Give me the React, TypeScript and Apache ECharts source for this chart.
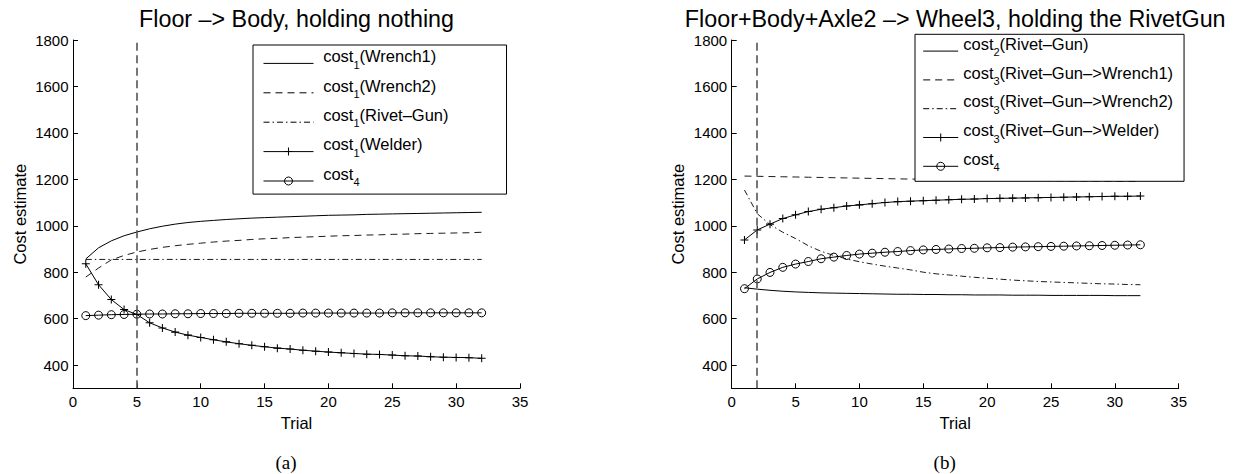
import React, { useEffect, useRef } from 'react';
import * as echarts from 'echarts';

// ---------- data ----------
const trials = [1, 2, 3, 4, 5, 6, 7, 8, 9, 10, 11, 12, 13, 14, 15, 16, 17, 18, 19, 20, 21, 22, 23, 24, 25, 26, 27, 28, 29, 30, 31, 32];
const yTicks = [400, 600, 800, 1000, 1200, 1400, 1600, 1800];

// (a) Floor -> Body, holding nothing
const leftWrench1 = [857, 905, 935, 957, 973, 987, 998, 1007, 1014, 1019, 1023, 1027, 1030, 1033, 1035, 1037, 1039, 1041, 1043, 1045, 1046, 1047, 1049, 1050, 1051, 1052, 1053, 1054, 1055, 1056, 1057, 1058];
const leftWrench2 = [779, 818, 853, 872, 887, 898, 907, 914, 920, 925, 930, 934, 937, 941, 944, 946, 949, 951, 953, 955, 957, 958, 960, 961, 963, 964, 966, 967, 968, 969, 970, 972];
const leftRivetGun = [855, 855, 855, 855, 855, 855, 855, 855, 855, 855, 855, 855, 855, 855, 855, 855, 855, 855, 855, 855, 855, 855, 855, 855, 855, 855, 855, 855, 855, 855, 855, 855];
const leftWelder = [836, 746, 682, 639, 618, 582, 560, 542, 529, 519, 509, 500, 492, 485, 479, 473, 469, 464, 460, 456, 453, 450, 447, 446, 443, 440, 439, 436, 434, 433, 432, 429];
const leftCost4 = [613, 615, 617, 618, 619, 620, 620, 621, 621, 622, 622, 622, 623, 623, 623, 623, 623, 624, 624, 624, 624, 624, 624, 624, 625, 625, 625, 625, 625, 625, 625, 625];
const leftMarkerTrial = 5;

// (b) Floor+Body+Axle2 -> Wheel3, holding the RivetGun
const rightRivetGun = [733, 727, 722, 718, 715, 713, 711, 710, 709, 708, 707, 706, 705, 705, 704, 704, 703, 703, 702, 702, 702, 701, 701, 701, 700, 700, 700, 700, 700, 699, 699, 699];
const rightToWrench1 = [1214, 1213, 1212, 1211, 1210, 1209, 1208, 1207, 1206, 1205, 1204, 1203, 1202, 1201, 1201, 1200, 1199, 1199, 1198, 1197, 1197, 1196, 1195, 1195, 1194, 1193, 1193, 1192, 1192, 1191, 1191, 1190];
const rightToWrench2 = [1154, 1052, 1005, 972, 945, 914, 890, 872, 857, 845, 835, 826, 818, 810, 800, 793, 788, 783, 778, 774, 770, 766, 763, 760, 758, 756, 754, 752, 750, 749, 747, 746];
const rightToWelder = [939, 982, 1007, 1031, 1047, 1061, 1071, 1078, 1085, 1090, 1095, 1100, 1104, 1106, 1108, 1110, 1112, 1114, 1115, 1117, 1118, 1119, 1120, 1121, 1122, 1123, 1124, 1125, 1126, 1127, 1127, 1128];
const rightCost4 = [729, 771, 799, 821, 835, 846, 858, 865, 872, 878, 882, 886, 889, 893, 896, 898, 900, 902, 903, 905, 906, 908, 909, 910, 911, 912, 913, 914, 915, 916, 917, 918];
const rightMarkerTrial = 2;

const titles = ['Floor –> Body, holding nothing', 'Floor+Body+Axle2 –> Wheel3, holding the RivetGun'];
const panelLabels = ['(a)', '(b)'];

// legend label parts: [main, subscript, rest]
const legendParts: Record<string, string[]> = {
  L1: ['cost', '1', '(Wrench1)'],
  L2: ['cost', '1', '(Wrench2)'],
  L3: ['cost', '1', '(Rivet–Gun)'],
  L4: ['cost', '1', '(Welder)'],
  L5: ['cost', '4', ''],
  R1: ['cost', '2', '(Rivet–Gun)'],
  R2: ['cost', '3', '(Rivet–Gun–>Wrench1)'],
  R3: ['cost', '3', '(Rivet–Gun–>Wrench2)'],
  R4: ['cost', '3', '(Rivet–Gun–>Welder)'],
  R5: ['cost', '4', ''],
};

// ---------- styles ----------
const FONT = 'Liberation Sans, Arial, Helvetica, sans-serif';
const SERIF = 'Liberation Serif, Times New Roman, serif';
const DASH = [7, 5];
const DASHDOT = [6, 3, 1.5, 3];
const PLUS = 'path://M4.35,0h1.3v4.35h4.35v1.3h-4.35v4.35h-1.3v-4.35h-4.35v-1.3h4.35z';

type Kind = 'solid' | 'dash' | 'dashdot' | 'plus' | 'circle';

function makeSeries(name: string, idx: number, values: number[], kind: Kind, markX?: number) {
  const lineType = kind === 'dash' ? DASH : kind === 'dashdot' ? DASHDOT : 'solid';
  const s: any = {
    name,
    type: 'line',
    xAxisIndex: idx,
    yAxisIndex: idx,
    data: trials.map((t, i) => [t, values[i]]),
    lineStyle: { color: '#000', width: kind === 'dash' || kind === 'dashdot' ? 0.9 : 1, type: lineType },
    emphasis: { disabled: true },
    silent: true,
    z: 2,
  };
  if (kind === 'plus') {
    s.symbol = PLUS;
    s.symbolSize = 8;
    s.showSymbol = true;
    s.itemStyle = { color: '#000', borderWidth: 0 };
  } else if (kind === 'circle') {
    s.symbol = 'circle';
    s.symbolSize = 8;
    s.showSymbol = true;
    s.itemStyle = { color: 'rgba(0,0,0,0)', borderColor: '#000', borderWidth: 1 };
  } else {
    s.symbol = 'none';
    s.showSymbol = false;
    s.itemStyle = { color: '#000' };
  }
  if (markX !== undefined) {
    s.markLine = {
      silent: true,
      symbol: ['none', 'none'],
      label: { show: false },
      lineStyle: { color: '#555', width: 1.6, type: [8, 4.5] },
      emphasis: { disabled: true },
      data: [{ xAxis: markX }],
    };
  }
  return s;
}

function legendItem(name: string, kind: Kind) {
  const lineType = kind === 'dash' ? DASH : kind === 'dashdot' ? DASHDOT : 'solid';
  let itemStyle: any;
  if (kind === 'plus') itemStyle = { color: '#000', borderWidth: 0, opacity: 1 };
  else if (kind === 'circle') itemStyle = { color: 'rgba(0,0,0,0)', borderColor: '#000', borderWidth: 1, opacity: 1 };
  else itemStyle = { color: 'rgba(0,0,0,0)', borderWidth: 0, opacity: 0 };
  return { name, itemStyle, lineStyle: { color: '#000', width: 1, type: lineType } };
}

function legendRich(firstPad: number) {
  // main text sits above the sample line, subscript slightly below it
  return {
    a0: { fontSize: 16.5, fontFamily: FONT, color: '#000', lineHeight: 24, height: 9.4, verticalAlign: 'top', padding: [0, 0, 0, firstPad] },
    a: { fontSize: 16.5, fontFamily: FONT, color: '#000', lineHeight: 24, height: 9.4, verticalAlign: 'top' },
    s: { fontSize: 11, fontFamily: FONT, color: '#000', lineHeight: 24, height: 21.6, verticalAlign: 'bottom' },
  };
}

const legendFormatter = (name: string) => {
  const p = legendParts[name];
  return `{a0|${p[0]}}{s|${p[1]}}` + (p[2] ? `{a|${p[2]}}` : '');
};

function axisPair(idx: number, left: number) {
  const grid = { left, top: 40, width: 447, height: 348.3, containLabel: false, outerBoundsMode: 'none' };
  const xAxis = {
    type: 'value',
    gridIndex: idx,
    min: 0,
    max: 35,
    interval: 5,
    axisLine: { show: true, onZero: false, lineStyle: { color: '#000', width: 1 } },
    axisTick: { show: true, inside: true, length: 5, lineStyle: { color: '#000', width: 1 } },
    axisLabel: { margin: 6, fontSize: 15, fontFamily: FONT, color: '#000', formatter: (v: number) => String(v) },
    splitLine: { show: false },
    name: 'Trial',
    nameLocation: 'middle',
    nameGap: 22,
    nameTextStyle: { fontSize: 16.5, fontFamily: FONT, color: '#000' },
  };
  const yAxis = {
    type: 'value',
    gridIndex: idx,
    min: 300,
    max: 1800,
    axisLine: { show: true, onZero: false, lineStyle: { color: '#000', width: 1 } },
    axisTick: { show: true, inside: true, length: 5, lineStyle: { color: '#000', width: 1 }, customValues: yTicks },
    axisLabel: { margin: 4.5, fontSize: 15, fontFamily: FONT, color: '#000', customValues: yTicks, formatter: (v: number) => String(v) },
    splitLine: { show: false },
    name: 'Cost estimate',
    nameLocation: 'middle',
    nameGap: 45,
    nameTextStyle: { fontSize: 16.5, fontFamily: FONT, color: '#000' },
  };
  return { grid, xAxis, yAxis };
}

export default function App() {
  const ref = useRef<HTMLDivElement>(null);

  useEffect(() => {
    if (!ref.current) return;
    const chart = echarts.init(ref.current, undefined, { renderer: 'svg' });
    const a = axisPair(0, 73);
    const b = axisPair(1, 731.7);

    const option: any = {
      animation: false,
      backgroundColor: '#fff',
      grid: [a.grid, b.grid],
      xAxis: [a.xAxis, b.xAxis],
      yAxis: [a.yAxis, b.yAxis],
      legend: [
        {
          orient: 'vertical',
          left: 253,
          top: 45,
          itemWidth: 50,
          itemHeight: 10,
          itemGap: 1.6,
          padding: [2.6, 58, 1.1, 10],
          backgroundColor: '#fff',
          borderColor: '#000',
          borderWidth: 1,
          selectedMode: false,
          formatter: legendFormatter,
          textStyle: { rich: legendRich(4.7) },
          data: [
            legendItem('L1', 'solid'),
            legendItem('L2', 'dash'),
            legendItem('L3', 'dashdot'),
            legendItem('L4', 'plus'),
            legendItem('L5', 'circle'),
          ],
          z: 10,
        },
        {
          orient: 'vertical',
          left: 915,
          top: 34.3,
          itemWidth: 35,
          itemHeight: 10,
          itemGap: 1.0,
          padding: [1.0, 11, 3.0, 7.7],
          backgroundColor: '#fff',
          borderColor: '#000',
          borderWidth: 1,
          selectedMode: false,
          formatter: legendFormatter,
          textStyle: { rich: legendRich(0) },
          data: [
            legendItem('R1', 'solid'),
            legendItem('R2', 'dash'),
            legendItem('R3', 'dashdot'),
            legendItem('R4', 'plus'),
            legendItem('R5', 'circle'),
          ],
          z: 10,
        },
      ],
      series: [
        makeSeries('L1', 0, leftWrench1, 'solid', leftMarkerTrial),
        makeSeries('L2', 0, leftWrench2, 'dash'),
        makeSeries('L3', 0, leftRivetGun, 'dashdot'),
        makeSeries('L4', 0, leftWelder, 'plus'),
        makeSeries('L5', 0, leftCost4, 'circle'),
        makeSeries('R1', 1, rightRivetGun, 'solid', rightMarkerTrial),
        makeSeries('R2', 1, rightToWrench1, 'dash'),
        makeSeries('R3', 1, rightToWrench2, 'dashdot'),
        makeSeries('R4', 1, rightToWelder, 'plus'),
        makeSeries('R5', 1, rightCost4, 'circle'),
      ],
      graphic: [
        { type: 'text', x: 296.5, y: 18.6, silent: true, style: { text: titles[0], fontSize: 23.3, fontFamily: FONT, fill: '#000', align: 'center', verticalAlign: 'middle', textAlign: 'center', textVerticalAlign: 'middle' } },
        { type: 'text', x: 955.2, y: 18.6, silent: true, style: { text: titles[1], fontSize: 23.3, fontFamily: FONT, fill: '#000', align: 'center', verticalAlign: 'middle', textAlign: 'center', textVerticalAlign: 'middle' } },
        { type: 'text', x: 286, y: 462.5, silent: true, style: { text: panelLabels[0], fontSize: 19, fontFamily: SERIF, fill: '#000', align: 'center', verticalAlign: 'middle', textAlign: 'center', textVerticalAlign: 'middle' } },
        { type: 'text', x: 944.7, y: 462.5, silent: true, style: { text: panelLabels[1], fontSize: 19, fontFamily: SERIF, fill: '#000', align: 'center', verticalAlign: 'middle', textAlign: 'center', textVerticalAlign: 'middle' } },
      ],
    };
    chart.setOption(option);
    return () => chart.dispose();
  }, []);

  return <div ref={ref} style={{ position: 'absolute', left: 0, top: 0, width: 1234, height: 474, background: '#fff' }} />;
}
